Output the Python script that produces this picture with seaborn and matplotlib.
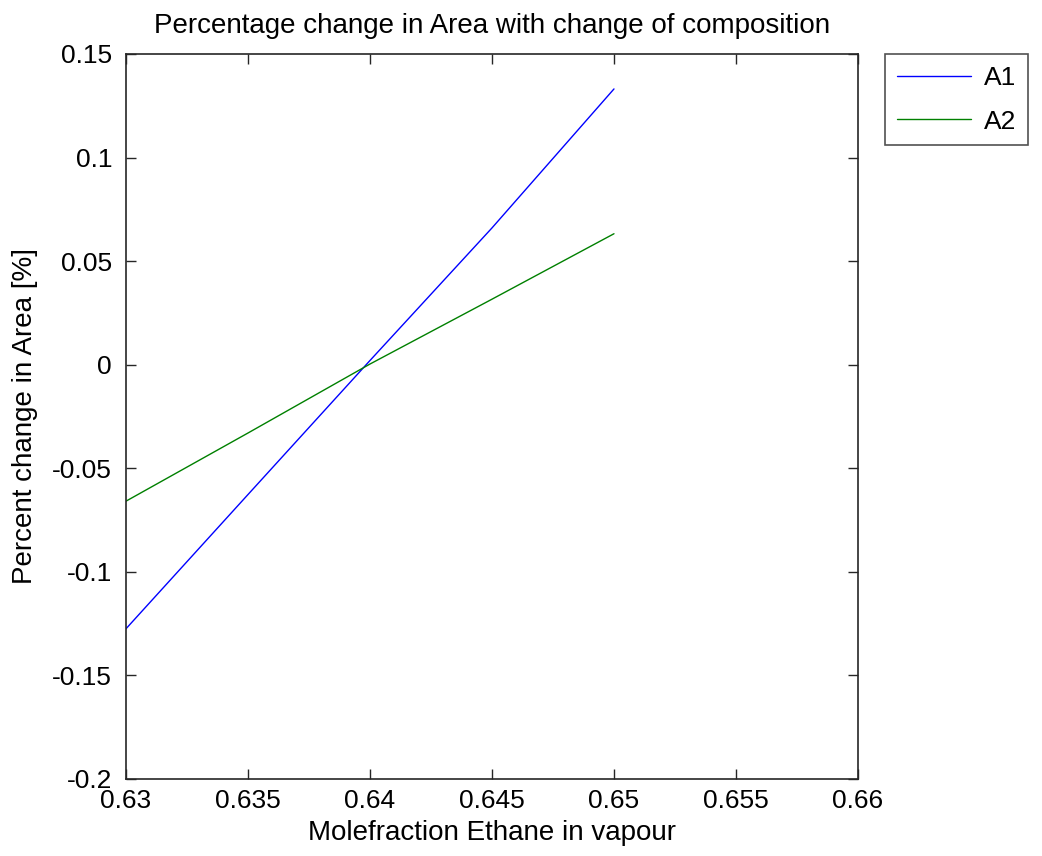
import matplotlib
matplotlib.use("Agg")
import matplotlib.pyplot as plt
import seaborn as sns
import pandas as pd

# Mole fraction of ethane in the vapour phase
molefraction = [0.630, 0.635, 0.640, 0.645, 0.650]
# Percentage change in area for each area term
area_a1 = [-0.1275, -0.0627, 0.0020, 0.0660, 0.1331]
area_a2 = [-0.0659, -0.0330, 0.0003, 0.0316, 0.0632]

series_names = ["A1", "A2"]
x_ticks = [0.63, 0.635, 0.64, 0.645, 0.65, 0.655, 0.66]
y_ticks = [-0.2, -0.15, -0.1, -0.05, 0, 0.05, 0.1, 0.15]

df = pd.DataFrame({
    "x": molefraction * 2,
    "y": area_a1 + area_a2,
    "series": [series_names[0]] * len(molefraction) + [series_names[1]] * len(molefraction),
})

sns.set_style("white")
plt.rcParams["font.family"] = ["Liberation Sans", "DejaVu Sans"]
plt.rcParams["text.color"] = "black"
plt.rcParams["axes.labelcolor"] = "black"

fig = plt.figure(figsize=(10.42, 8.56), dpi=100)
ax = fig.add_axes([0.1209, 0.090, 0.7025, 0.847])

sns.lineplot(data=df, x="x", y="y", hue="series",
             palette={"A1": "#0000ff", "A2": "#008000"},
             linewidth=1.0, ax=ax, legend=True)

ax.set_xlim(0.63, 0.66)
ax.set_ylim(-0.2, 0.15)
ax.set_xticks(x_ticks)
ax.set_xticklabels([f"{v:g}" for v in x_ticks])
ax.set_yticks(y_ticks)
ax.set_yticklabels([f"{v:g}" for v in y_ticks])

for s in ax.spines.values():
    s.set_color("#262626")
    s.set_linewidth(1.2)
    s.set_visible(True)

ax.tick_params(direction="in", length=7, width=1.0, color="#262626",
               labelsize=19, top=True, right=True, bottom=True, left=True,
               labelcolor="black")
ax.tick_params(axis="x", pad=7)
ax.tick_params(axis="y", pad=10)

ax.set_title("Percentage change in Area with change of composition",
             fontsize=20, pad=15, color="black")
ax.set_xlabel("Molefraction Ethane in vapour", fontsize=20, labelpad=5)
ax.set_ylabel("Percent change in Area [%]", fontsize=20, labelpad=10)

leg = ax.legend(loc="upper left", bbox_to_anchor=(1.037, 1.0),
                fontsize=19, frameon=True, fancybox=False,
                handlelength=2.8, handletextpad=0.5, labelspacing=0.75,
                borderpad=0.45, borderaxespad=0.0, title=None)
leg.get_frame().set_edgecolor("#262626")
leg.get_frame().set_linewidth(1.2)

fig.savefig("out.png", dpi=100, facecolor="white")
